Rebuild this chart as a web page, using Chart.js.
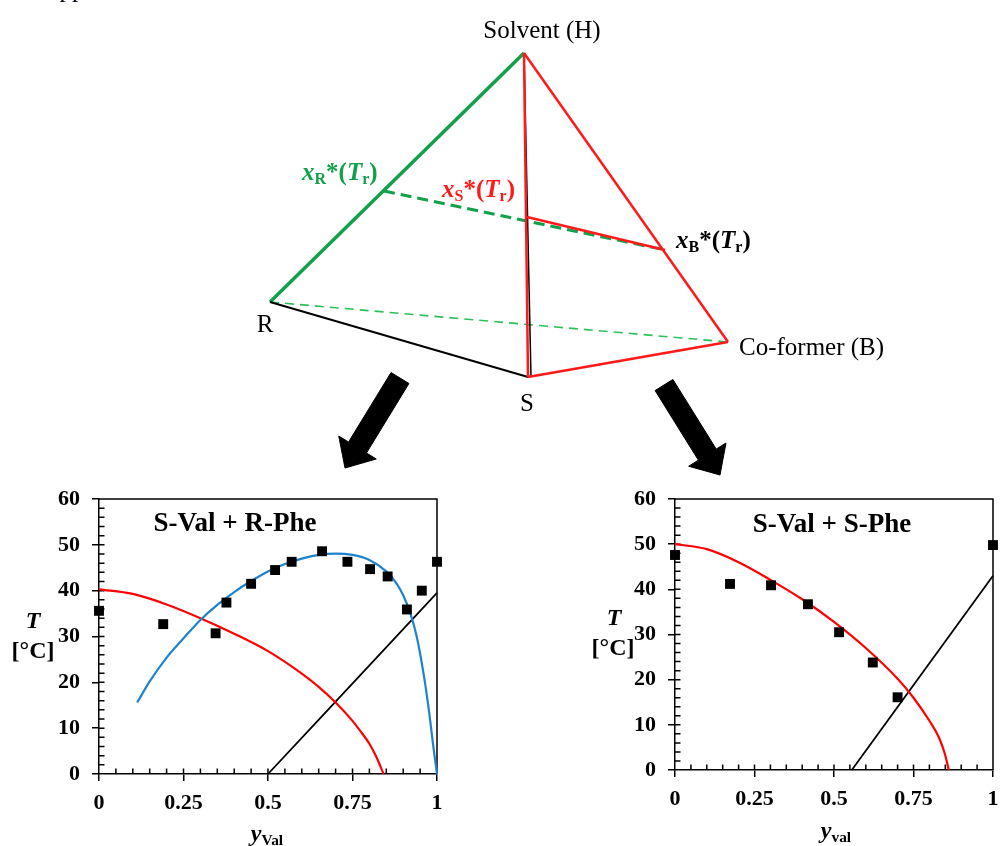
<!DOCTYPE html>
<html>
<head>
<meta charset="utf-8">
<script src="https://cdn.jsdelivr.net/npm/chart.js@4.4.1/dist/chart.umd.min.js"></script>
<style>
    body { margin: 0; background: #fff; }
    #wrap { position: relative; width: 1000px; height: 846px; overflow: hidden;
        font-family: "Liberation Serif", "Times New Roman", serif; color: #000; }
    canvas { position: absolute; }
    .lbl { position: absolute; white-space: nowrap; line-height: 1; transform: translate(-50%, -50%); }
    .left { transform: translate(0, -50%); }
    .corner { font-size: 25px; }
    .edge { font-size: 25px; font-weight: bold; }
    .title { font-size: 27px; font-weight: bold; }
    .axis { font-size: 24px; font-weight: bold; }
    sub { font-size: 0.64em; vertical-align: -0.28em; line-height: 0; }
</style>
</head>
<body>
<div id="wrap">
    <div class="lbl corner" style="left:72px; top:-12px;">pp</div>

    <canvas id="tetra" width="1000" height="480" style="left:0; top:0;"></canvas>
    <canvas id="chartRP" width="460" height="366" style="left:0; top:480px;"></canvas>
    <canvas id="chartSS" width="440" height="366" style="left:560px; top:480px;"></canvas>

    <div class="lbl corner" style="left:542px; top:29px;">Solvent (H)</div>
    <div class="lbl corner" style="left:265px; top:323px;">R</div>
    <div class="lbl corner" style="left:527px; top:402px;">S</div>
    <div class="lbl corner left" style="left:739px; top:346px;">Co-former (B)</div>
    <div class="lbl edge left" style="left:302px; top:171px; color:#12a04a;"><i>x</i><sub>R</sub>*(<i>T</i><sub>r</sub>)</div>
    <div class="lbl edge left" style="left:442px; top:188px; color:#ff1a1a;"><i>x</i><sub>S</sub>*(<i>T</i><sub>r</sub>)</div>
    <div class="lbl edge left" style="left:676px; top:239px;"><i>x</i><sub>B</sub>*(<i>T</i><sub>r</sub>)</div>

    <div class="lbl title" style="left:235px; top:522px;">S-Val + R-Phe</div>
    <div class="lbl axis" style="left:33px; top:620px;"><i>T</i></div>
    <div class="lbl axis" style="left:33px; top:650px;">[°C]</div>
    <div class="lbl axis" style="left:267px; top:833px;"><i>y</i><sub>Val</sub></div>

    <div class="lbl title" style="left:832px; top:523px;">S-Val + S-Phe</div>
    <div class="lbl axis" style="left:614px; top:617px;"><i>T</i></div>
    <div class="lbl axis" style="left:613px; top:647px;">[°C]</div>
    <div class="lbl axis" style="left:836px; top:830px;"><i>y</i><sub>val</sub></div>
</div>

<script>
// tetrahedron corners and edge points, in diagram units (1 unit = 1 px of the top panel)
const vertH = [524, 53];
const vertR = [270, 302];
const vertS = [528, 377];
const vertSback = [531, 377];
const vertB = [728, 342];
const ptXR = [384, 191];
const ptXS = [527, 217];
const ptXB = [665, 250];
const arrowLeft = [[400, 378], [345, 468]];
const arrowRight = [[664, 385], [720, 475]];

// S-Val + R-Phe
const rpExpX = [0, 0.19, 0.345, 0.377, 0.45, 0.521, 0.57, 0.66, 0.735, 0.802, 0.854, 0.911, 0.955, 1.0];
const rpExpT = [35.6, 32.7, 30.7, 37.4, 41.5, 44.5, 46.3, 48.6, 46.3, 44.7, 43.1, 35.9, 40.0, 46.3];
const rpValX = [0, 0.1, 0.2, 0.3, 0.4, 0.5, 0.6, 0.65, 0.7, 0.75, 0.775, 0.8, 0.82, 0.842];
const rpValT = [40.3, 39.3, 37.0, 34.0, 30.6, 26.8, 21.9, 19.0, 15.6, 11.6, 9.2, 6.6, 3.8, 0];
const rpCoX = [0.113, 0.15, 0.2, 0.25, 0.3, 0.35, 0.4, 0.45, 0.5, 0.55, 0.6, 0.65, 0.7, 0.75, 0.8, 0.85, 0.88, 0.9, 0.92, 0.94, 0.96, 0.975, 0.99, 1.0];
const rpCoT = [15.6, 20.2, 25.4, 29.6, 33.6, 36.9, 39.7, 42.1, 44.2, 45.8, 47.0, 47.8, 48.1, 47.8, 46.7, 44.2, 41.6, 39.0, 35.3, 30.0, 22.0, 14.5, 5.5, 0];
const rpLineX = [0.5, 1.0];
const rpLineT = [0, 39.5];

// S-Val + S-Phe
const ssExpX = [0, 0.173, 0.302, 0.418, 0.516, 0.622, 0.70, 1.0];
const ssExpT = [47.6, 41.2, 40.9, 36.7, 30.5, 23.8, 16.1, 49.8];
const ssValX = [0, 0.1, 0.2, 0.3, 0.4, 0.5, 0.6, 0.7, 0.75, 0.8, 0.83, 0.848, 0.861];
const ssValT = [50.0, 48.9, 46.0, 42.1, 37.8, 32.8, 27.0, 20.2, 16.0, 10.9, 7.2, 3.7, 0];
const ssLineX = [0.556, 1.0];
const ssLineT = [0, 43.0];

const tempTicks = ["0", "10", "20", "30", "40", "50", "60"];
const fracTicks = ["0", "0.25", "0.5", "0.75", "1"];

const pts = (xs, ys) => xs.map((x, i) => ({ x: x, y: ys[i] }));

/* ---------- top panel: tetrahedron ---------- */
function edge(a, b, color, width, dash) {
    return {
        data: [{ x: a[0], y: a[1] }, { x: b[0], y: b[1] }],
        showLine: true,
        borderColor: color,
        borderWidth: width,
        borderDash: dash || [],
        pointRadius: 0,
        clip: false
    };
}

function arrowShape(from, to, shaftW, headW, headL) {
    const dx = to[0] - from[0], dy = to[1] - from[1];
    const len = Math.hypot(dx, dy);
    const ux = dx / len, uy = dy / len, nx = -uy, ny = ux;
    const bx = to[0] - ux * headL, by = to[1] - uy * headL;
    const p = (x, y) => ({ x: x, y: y });
    return [
        p(from[0] + nx * shaftW / 2, from[1] + ny * shaftW / 2),
        p(bx + nx * shaftW / 2, by + ny * shaftW / 2),
        p(bx + nx * headW / 2, by + ny * headW / 2),
        p(to[0], to[1]),
        p(bx - nx * headW / 2, by - ny * headW / 2),
        p(bx - nx * shaftW / 2, by - ny * shaftW / 2),
        p(from[0] - nx * shaftW / 2, from[1] - ny * shaftW / 2),
        p(from[0] + nx * shaftW / 2, from[1] + ny * shaftW / 2)
    ];
}

function arrow(a) {
    return {
        data: arrowShape(a[0], a[1], 21, 44, 24),
        showLine: true,
        fill: "shape",
        backgroundColor: "#000",
        borderColor: "#000",
        borderWidth: 1,
        pointRadius: 0,
        clip: false
    };
}

const GREEN = "#12a04a";
const GREEN_LIGHT = "#2fbf5a";
const RED = "#ff1a1a";

new Chart(document.getElementById("tetra"), {
    type: "scatter",
    data: {
        datasets: [
            edge(ptXS, ptXB, RED, 2.5),
            edge(vertH, vertS, RED, 2.5),
            edge(vertH, vertB, RED, 2.5),
            edge(vertS, vertB, RED, 2.5),
            edge(vertH, vertSback, "#000", 1.5),
            edge(vertR, vertS, "#000", 2),
            edge(vertH, vertR, GREEN, 3.5),
            edge(ptXR, ptXB, GREEN, 3, [11, 6]),
            edge(vertR, vertB, GREEN_LIGHT, 1.6, [9, 6]),
            arrow(arrowLeft),
            arrow(arrowRight)
        ]
    },
    options: {
        responsive: false,
        animation: false,
        events: [],
        layout: { padding: 0 },
        plugins: { legend: { display: false }, tooltip: { enabled: false } },
        scales: {
            x: { display: false, min: 0, max: 1000 },
            y: { display: false, min: 0, max: 480, reverse: true }
        }
    }
});

/* ---------- bottom panels: phase diagrams ---------- */
const framePlugin = {
    id: "frame",
    beforeDatasetsDraw(chart) {
        const { ctx, chartArea: a, scales: { x, y } } = chart;
        ctx.save();
        ctx.strokeStyle = "#000";
        ctx.lineWidth = 1.5;
        ctx.beginPath();
        ctx.moveTo(a.left, a.top);
        ctx.lineTo(a.right, a.top);
        ctx.lineTo(a.right, a.bottom);
        // inner ticks: every 2 degC and every 0.05
        for (let t = 2; t < 60; t += 2) {
            const py = y.getPixelForValue(t);
            ctx.moveTo(a.left, py);
            ctx.lineTo(a.left + 5.5, py);
        }
        for (let i = 1; i < 20; i++) {
            const px = x.getPixelForValue(i * 0.05);
            ctx.moveTo(px, a.bottom);
            ctx.lineTo(px, a.bottom - 5.5);
        }
        ctx.stroke();
        ctx.restore();
    }
};

const tickFont = { family: "Liberation Serif", size: 22, weight: "bold" };

function phaseChart(id, sets, yWidth, xHeight, padRight) {
    return new Chart(document.getElementById(id), {
        type: "scatter",
        data: { datasets: sets },
        options: {
            responsive: false,
            animation: false,
            events: [],
            layout: { padding: { top: 19, right: padRight, left: 0, bottom: 0 } },
            plugins: { legend: { display: false }, tooltip: { enabled: false } },
            scales: {
                x: {
                    type: "linear", min: 0, max: 1,
                    ticks: {
                        stepSize: 0.25, autoSkip: false, maxRotation: 0,
                        color: "#000", font: tickFont, padding: 9,
                        callback: (v, i) => fracTicks[i]
                    },
                    grid: { drawOnChartArea: false, drawTicks: true, tickLength: 7, color: "#000", lineWidth: 1.5 },
                    border: { display: true, color: "#000", width: 1.5 },
                    afterFit: s => { s.height = xHeight; s.paddingLeft = 0; s.paddingRight = 0; }
                },
                y: {
                    type: "linear", min: 0, max: 60,
                    ticks: {
                        stepSize: 10, autoSkip: false,
                        color: "#000", font: tickFont, padding: 12,
                        callback: (v, i) => tempTicks[i]
                    },
                    grid: { drawOnChartArea: false, drawTicks: true, tickLength: 7, color: "#000", lineWidth: 1.5 },
                    border: { display: true, color: "#000", width: 1.5 },
                    afterFit: s => { s.width = yWidth; s.paddingTop = 0; s.paddingBottom = 0; }
                }
            }
        },
        plugins: [framePlugin]
    });
}

function markers(xs, ys) {
    return {
        data: pts(xs, ys),
        pointStyle: "rect",
        pointRadius: 7,
        backgroundColor: "#000",
        borderWidth: 0,
        clip: false
    };
}

function curve(xs, ys, color, width) {
    return {
        data: pts(xs, ys),
        showLine: true,
        borderColor: color,
        borderWidth: width,
        pointRadius: 0,
        cubicInterpolationMode: "monotone",
        clip: 4
    };
}

phaseChart("chartRP", [
    markers(rpExpX, rpExpT),
    curve(rpCoX, rpCoT, "#1f82cc", 2.2),
    curve(rpValX, rpValT, "#ff0000", 2.2),
    curve(rpLineX, rpLineT, "#000", 1.8)
], 99, 72, 23);

phaseChart("chartSS", [
    markers(ssExpX, ssExpT),
    curve(ssValX, ssValT, "#ff0000", 2.2),
    curve(ssLineX, ssLineT, "#000", 1.8)
], 115, 76, 2);
</script>
</body>
</html>
